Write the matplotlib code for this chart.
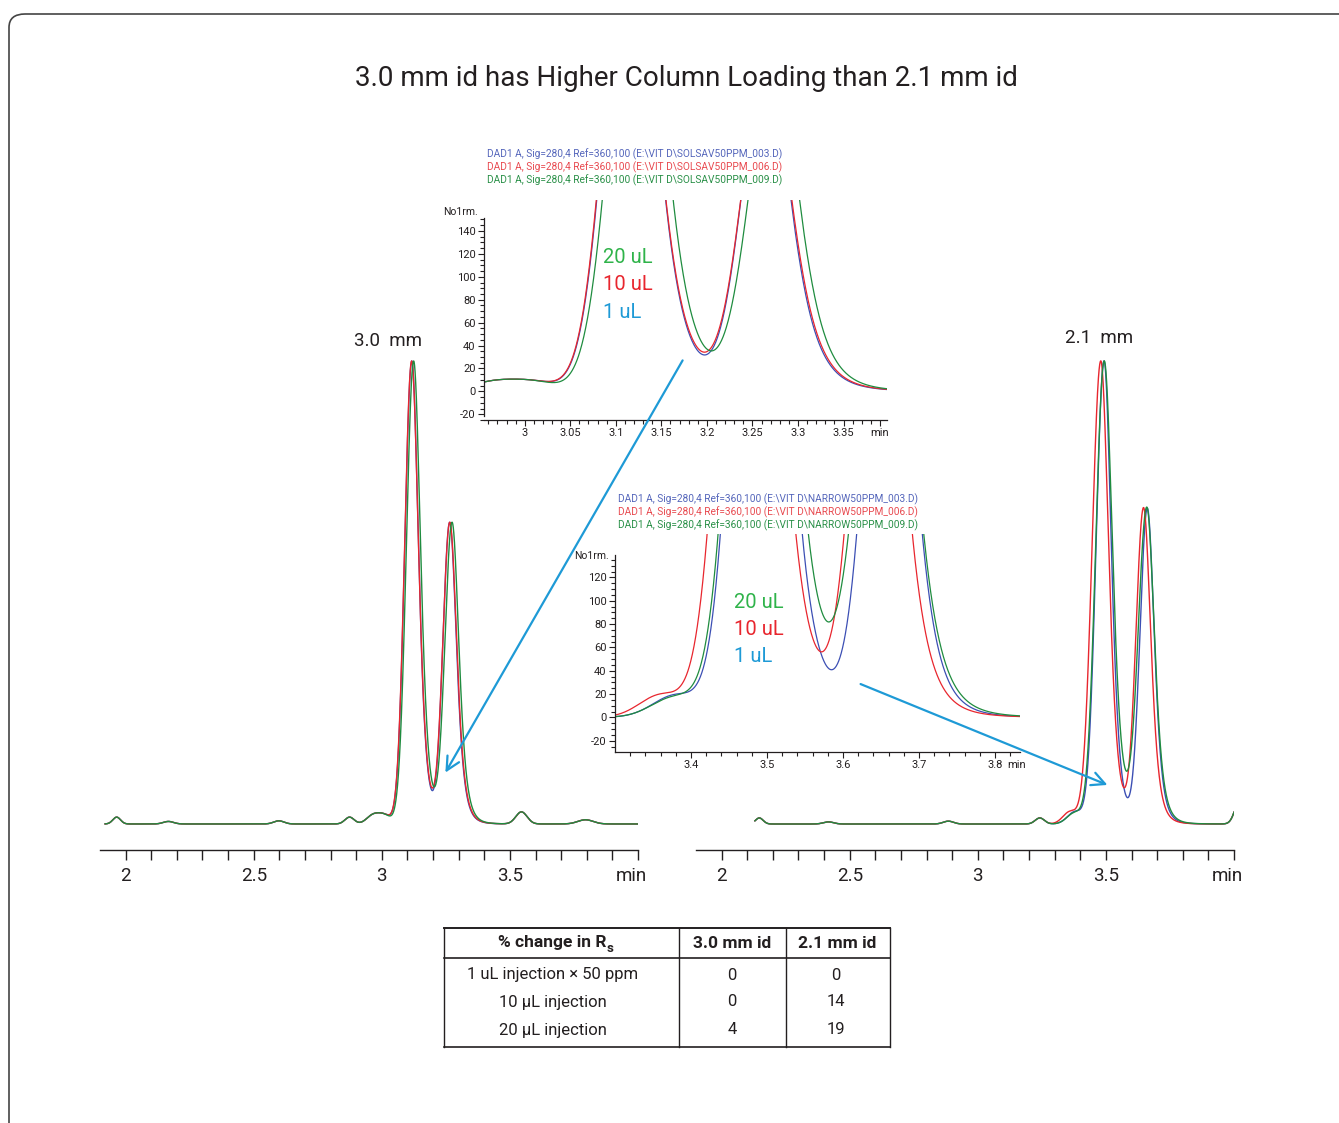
import numpy as np
import matplotlib
matplotlib.use("Agg")
import matplotlib.pyplot as plt
import matplotlib.transforms as mtransforms
from matplotlib.patches import FancyBboxPatch, FancyArrowPatch
from matplotlib.lines import Line2D

plt.rcParams['font.family'] = ['Roboto', 'DejaVu Sans']

# ---- data ----
title = "3.0 mm id has Higher Column Loading than 2.1 mm id"
injections = ["1 uL", "10 uL", "20 uL"]

# main peaks per injection: (retention time min, height mAU, front sigma, tail half-width)
peaks_30mm_1uL = [(3.117, 441, 0.0272, 0.0311), (3.265, 286, 0.0262, 0.0312)]
peaks_30mm_10uL = [(3.1165, 441, 0.0272, 0.0318), (3.2655, 286, 0.0268, 0.0318)]
peaks_30mm_20uL = [(3.1243, 441, 0.0281, 0.0319), (3.2743, 286, 0.0275, 0.0313)]

peaks_21mm_1uL = [(3.4928, 718, 0.0309, 0.0337), (3.6617, 488, 0.0284, 0.0321)]
peaks_21mm_10uL = [(3.480, 718, 0.0336, 0.0364), (3.647, 488, 0.0292, 0.0333)]
peaks_21mm_20uL = [(3.4935, 718, 0.0330, 0.0380), (3.6597, 488, 0.0330, 0.0350)]

# small baseline peaks: (retention time, height, sigma)
minor_30mm = [(1.965, 6.5, 0.015), (2.167, 2.4, 0.02), (2.598, 3.0, 0.02),
              (2.874, 6.5, 0.018), (2.965, 8.0, 0.025), (3.010, 8.0, 0.025),
              (3.545, 11.5, 0.022), (3.795, 4.0, 0.03)]
minor_21mm = [(2.147, 9.4, 0.015), (2.417, 3.3, 0.02), (2.885, 4.4, 0.02),
              (3.242, 9.4, 0.018), (4.025, 40.0, 0.02)]
shoulder_21mm = [(3.380, 19, 0.030), (3.360, 19, 0.028), (3.378, 17, 0.030)]

trace_start = [1.92, 2.13]
trace_end = 4.0

legend_30mm = [r"DAD1 A, Sig=280,4 Ref=360,100 (E:\VIT D\SOLSAV50PPM_003.D)",
               r"DAD1 A, Sig=280,4 Ref=360,100 (E:\VIT D\SOLSAV50PPM_006.D)",
               r"DAD1 A, Sig=280,4 Ref=360,100 (E:\VIT D\SOLSAV50PPM_009.D)"]
legend_21mm = [r"DAD1 A, Sig=280,4 Ref=360,100 (E:\VIT D\NARROW50PPM_003.D)",
               r"DAD1 A, Sig=280,4 Ref=360,100 (E:\VIT D\NARROW50PPM_006.D)",
               r"DAD1 A, Sig=280,4 Ref=360,100 (E:\VIT D\NARROW50PPM_009.D)"]

table_header = ["% change in R", "3.0 mm id", "2.1 mm id"]
table_rows = ["1 uL injection \u00d7 50 ppm", "10 \u03bcL injection", "20 \u03bcL injection"]
rs_change_30mm = [0, 0, 4]
rs_change_21mm = [0, 14, 19]

# ---- style ----
W, H = 1339, 1123
trace_colors = ['#3c4fb4', '#e8262e', '#1f8c3f']
legend_colors = ['#5566bb', '#e84a50', '#2a9048']
label_colors = ['#1e9ad6', '#e8262e', '#2fb34a']
arrow_color = '#1e9ad6'
ink = '#231f20'


def box(x0, y0, x1, y1):
    # pixel box (top-left origin) -> figure fraction rect
    return [x0 / W, 1 - y1 / H, (x1 - x0) / W, (y1 - y0) / H]


def fx(x):
    return x / W


def fy(y):
    return 1 - y / H


def peak(t, rt, h, front, tail):
    d = t - rt
    left = h * np.exp(-0.5 * (d / front) ** 2)
    right = h * (1 + (2 ** (1 / 3) - 1) * (d / tail) ** 2) ** -3
    return np.where(d < 0, left, right)


def bump(t, rt, h, s):
    return h * np.exp(-0.5 * ((t - rt) / s) ** 2)


def trace(t, peaks, minor, extra=None):
    y = np.zeros_like(t)
    for p in peaks:
        y += peak(t, *p)
    for b in minor:
        y += bump(t, *b)
    if extra is not None:
        y += bump(t, *extra)
    return y


t30 = np.linspace(trace_start[0], trace_end, 6000)
t21 = np.linspace(trace_start[1], trace_end, 6000)
traces_30 = [trace(t30, p, minor_30mm) for p in
             (peaks_30mm_1uL, peaks_30mm_10uL, peaks_30mm_20uL)]
traces_21 = [trace(t21, p, minor_21mm, s) for p, s in
             zip((peaks_21mm_1uL, peaks_21mm_10uL, peaks_21mm_20uL), shoulder_21mm)]

fig = plt.figure(figsize=(W / 100, H / 100), dpi=100)

# rounded frame running off the right and bottom edges
frame = FancyBboxPatch((fx(9), fy(1160)), fx(1380 - 9), fy(14) - fy(1160),
                       boxstyle="round,pad=0,rounding_size=0.012",
                       transform=fig.transFigure, fill=False,
                       edgecolor='#444444', linewidth=1.2)
fig.add_artist(frame)

fig.text(fx(686), fy(79), title, ha='center', va='center', fontsize=20, color=ink)


def main_panel(rect, ylim, t, traces, label, label_xy):
    ax = fig.add_axes(rect)
    ax.set_facecolor('none')
    for y, c in zip(traces, trace_colors):
        ax.plot(t, y, color=c, lw=1.0)
    ax.set_xlim(1.9, 4.0)
    ax.set_ylim(*ylim)
    for s in ['left', 'top', 'right']:
        ax.spines[s].set_visible(False)
    ax.spines['bottom'].set_color(ink)
    ax.spines['bottom'].set_linewidth(1.0)
    ticks = np.round(np.arange(2.0, 4.01, 0.1), 2)
    labels = {2.0: '2', 2.5: '2.5', 3.0: '3', 3.5: '3.5', 4.0: 'min'}
    ax.set_xticks(ticks)
    ax.set_xticklabels([labels.get(v, '') for v in ticks])
    ax.tick_params(axis='x', direction='out', length=7, width=1.0, color=ink,
                   labelsize=13.5, labelcolor=ink, pad=5)
    # the "min" unit label sits a little left of the last tick
    last = ax.get_xticklabels()[-1]
    last.set_transform(last.get_transform() +
                       mtransforms.ScaledTranslation(-7 / 100, 0, fig.dpi_scale_trans))
    ax.set_yticks([])
    fig.text(fx(label_xy[0]), fy(label_xy[1]), label, ha='center', va='center',
             fontsize=13.5, color=ink)
    return ax


main_panel(box(100, 340, 638, 850), (-24.8, 461), t30, traces_30, "3.0  mm", (388, 341))
main_panel(box(696, 340, 1234, 850), (-40.3, 750.4), t21, traces_21, "2.1  mm", (1099, 338))


def inset_panel(rect, xlim, ylim, spine_top, t, traces, xmajor, xminor, xlabels,
                ymax_label, legend, legend_xy, label_xy, unit_y):
    ax = fig.add_axes(rect)
    ax.set_facecolor('none')
    for y, c in zip(traces, trace_colors):
        ax.plot(t, y, color=c, lw=0.9)
    ax.set_xlim(*xlim)
    ax.set_ylim(*ylim)
    for s in ['top', 'right']:
        ax.spines[s].set_visible(False)
    for s in ['left', 'bottom']:
        ax.spines[s].set_color(ink)
        ax.spines[s].set_linewidth(0.9)
    ax.spines['left'].set_bounds(ylim[0], spine_top)
    ax.set_xticks(xmajor)
    ax.set_xticklabels(xlabels)
    ax.set_xticks(xminor, minor=True)
    ax.set_yticks(np.arange(-20, ymax_label + 1, 20))
    ax.set_yticklabels([str(v) for v in np.arange(-20, ymax_label + 1, 20)])
    ax.set_yticks(np.arange(-25, spine_top, 5), minor=True)
    ax.tick_params(which='both', direction='out', color=ink, width=0.8,
                   labelsize=8, labelcolor=ink, pad=2)
    ax.tick_params(which='major', length=4)
    ax.tick_params(which='minor', length=3)
    # y unit label just left of the spine top
    fig.text(rect[0] - fx(6), fy(unit_y), "No1rm.", ha='right', va='center',
             fontsize=7.5, color=ink)
    for i, (txt, c) in enumerate(zip(legend, legend_colors)):
        fig.text(fx(legend_xy[0]), fy(legend_xy[1] + 12.7 * i), txt, ha='left',
                 va='center', fontsize=7.3, color=c)
    for i, (txt, c) in enumerate(zip(injections[::-1], label_colors[::-1])):
        fig.text(fx(label_xy[0]), fy(label_xy[1] + 27.5 * i), txt, ha='left',
                 va='center', fontsize=14.5, color=c)
    return ax


x1_major = [3.0, 3.05, 3.1, 3.15, 3.2, 3.25, 3.3, 3.35, 3.39]
x1_labels = ['3', '3.05', '3.1', '3.15', '3.2', '3.25', '3.3', '3.35', 'min']
inset_panel(box(484, 200, 887, 420), (2.9553, 3.3977), (-21.4, 167), 151, t30, traces_30,
            x1_major, np.arange(2.96, 3.395, 0.01), x1_labels, 140,
            legend_30mm, (487, 154.5), (603, 257.5), 212)

x2_major = [3.4, 3.5, 3.6, 3.7, 3.8, 3.828]
x2_labels = ['3.4', '3.5', '3.6', '3.7', '3.8', 'min']
ax2 = inset_panel(box(615, 534, 1020, 752), (3.3, 3.833), (-29.7, 157.2), 139, t21, traces_21,
                  x2_major, np.arange(3.32, 3.833, 0.02), x2_labels, 120,
                  legend_21mm, (618, 499.5), (734, 602), 556)
ax2.get_xticklines()[-2].set_visible(False)

# arrows pointing from insets to the valleys
for a, b in [((684, 358), (444, 775)), ((858, 683), (1110, 786))]:
    fig.add_artist(FancyArrowPatch((fx(a[0]), fy(a[1])), (fx(b[0]), fy(b[1])),
                                   transform=fig.transFigure, arrowstyle='->',
                                   mutation_scale=24, color=arrow_color, lw=1.6))

# ---- resolution table ----
cols = [444, 679, 786, 890]
rows_y = [975, 1002, 1030]
for y, lw in [(928, 1.4), (958, 1.2), (1047, 1.2)]:
    fig.add_artist(Line2D([fx(cols[0]), fx(cols[-1])], [fy(y), fy(y)], color=ink, lw=lw))
for x in cols:
    fig.add_artist(Line2D([fx(x), fx(x)], [fy(928), fy(1047)], color=ink, lw=1.0))

fig.text(fx(606), fy(943), table_header[0], ha='right', va='center', fontsize=12.5,
         fontweight='bold', color=ink)
fig.text(fx(607), fy(948), 's', ha='left', va='center', fontsize=9.5,
         fontweight='bold', color=ink)
fig.text(fx(732), fy(943), table_header[1], ha='center', va='center', fontsize=12.5,
         fontweight='bold', color=ink)
fig.text(fx(837), fy(943), table_header[2], ha='center', va='center', fontsize=12.5,
         fontweight='bold', color=ink)
for y, name, a, b in zip(rows_y, table_rows, rs_change_30mm, rs_change_21mm):
    fig.text(fx(553), fy(y), name, ha='center', va='center', fontsize=12, color=ink)
    fig.text(fx(732), fy(y), str(a), ha='center', va='center', fontsize=12, color=ink)
    fig.text(fx(836), fy(y), str(b), ha='center', va='center', fontsize=12, color=ink)

fig.savefig("out.png", dpi=100, facecolor='white')
